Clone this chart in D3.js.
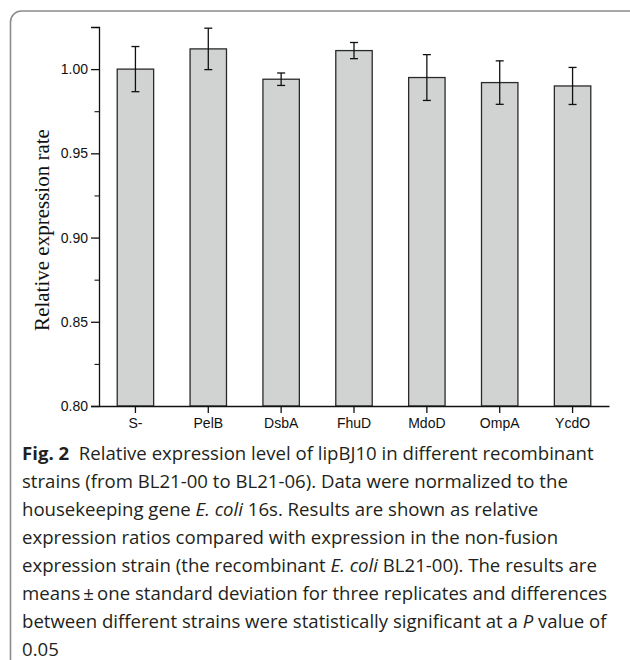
<!DOCTYPE html>
<html>
<head>
<meta charset="utf-8">
<script src="https://cdn.jsdelivr.net/npm/d3@7"></script>
<style>
  html, body { margin: 0; padding: 0; background: #fff; }
  svg { display: block; }
</style>
</head>
<body>
<svg id="chart"></svg>
<script>
const categories = ['S-', 'PelB', 'DsbA', 'FhuD', 'MdoD', 'OmpA', 'YcdO'];
const means = [1.000, 1.012, 0.994, 1.011, 0.995, 0.992, 0.990];
const sds = [0.0134, 0.0123, 0.0037, 0.0048, 0.0136, 0.0129, 0.0110];
const majorTicks = [0.80, 0.85, 0.90, 0.95, 1.00];
const minorTicks = [0.825, 0.875, 0.925, 0.975, 1.025];
const yLabel = 'Relative expression rate';

// caption lines, each a list of [text, style]
const captionLines = [
  [['Fig. 2', 'b'], ['  Relative expression level of lipBJ10 in different recombinant', '']],
  [['strains (from BL21-00 to BL21-06). Data were normalized to the', '']],
  [['housekeeping gene ', ''], ['E. coli', 'i'], [' 16s. Results are shown as relative', '']],
  [['expression ratios compared with expression in the non-fusion', '']],
  [['expression strain (the recombinant ', ''], ['E. coli', 'i'], [' BL21-00). The results are', '']],
  [['means\u2009\u00b1\u2009one standard deviation for three replicates and differences', '']],
  [['between different strains were statistically significant at a ', ''], ['P', 'i'], [' value of', '']],
  [['0.05', '']]
];

const width = 630;
const height = 660;
const plot = { left: 99, right: 609, top: 27, bottom: 406 };

const svg = d3.select('#chart')
  .attr('width', width)
  .attr('height', height);

// rounded frame (runs off the right/bottom edge like the reference)
svg.append('rect')
  .attr('x', 10.5)
  .attr('y', 11)
  .attr('width', 640)
  .attr('height', 662)
  .attr('rx', 11)
  .attr('fill', 'none')
  .attr('stroke', '#8c8c8c')
  .attr('stroke-width', 1.6);

const xScale = d3.scaleBand()
  .domain(categories)
  .range([plot.left, plot.right])
  .paddingInner(0.5)
  .paddingOuter(0.25);

const yScale = d3.scaleLinear()
  .domain([0.80, 1.025])
  .range([plot.bottom, plot.top]);

const g = svg.append('g');

// bars
g.selectAll('.bar')
  .data(categories)
  .enter()
  .append('rect')
  .attr('class', 'bar')
  .attr('x', d => xScale(d))
  .attr('width', xScale.bandwidth())
  .attr('y', (d, i) => yScale(means[i]))
  .attr('height', (d, i) => yScale(0.80) - yScale(means[i]))
  .attr('fill', '#d1d3d2')
  .attr('stroke', '#2a2a2a')
  .attr('stroke-width', 1.3);

// error bars
const capHalf = 4;
const errs = g.selectAll('.err')
  .data(categories)
  .enter()
  .append('g')
  .attr('class', 'err')
  .attr('stroke', '#111')
  .attr('stroke-width', 1.3);

errs.append('line')
  .attr('x1', d => xScale(d) + xScale.bandwidth() / 2)
  .attr('x2', d => xScale(d) + xScale.bandwidth() / 2)
  .attr('y1', (d, i) => yScale(means[i] + sds[i]))
  .attr('y2', (d, i) => yScale(means[i] - sds[i]));

[1, -1].forEach(sign => {
  errs.append('line')
    .attr('x1', d => xScale(d) + xScale.bandwidth() / 2 - capHalf)
    .attr('x2', d => xScale(d) + xScale.bandwidth() / 2 + capHalf)
    .attr('y1', (d, i) => yScale(means[i] + sign * sds[i]))
    .attr('y2', (d, i) => yScale(means[i] + sign * sds[i]));
});

// y axis
const yAxis = svg.append('g')
  .attr('transform', `translate(${plot.left}, 0)`)
  .call(d3.axisLeft(yScale)
    .tickValues(majorTicks)
    .tickFormat(d3.format('.2f'))
    .tickSize(8)
    .tickPadding(3));

svg.append('g')
  .attr('transform', `translate(${plot.left}, 0)`)
  .call(d3.axisLeft(yScale)
    .tickValues(minorTicks)
    .tickFormat('')
    .tickSize(4.5))
  .select('.domain').remove();

// x axis
const xAxis = svg.append('g')
  .attr('transform', `translate(0, ${plot.bottom})`)
  .call(d3.axisBottom(xScale)
    .tickSize(7)
    .tickSizeOuter(0)
    .tickPadding(5));

[yAxis, xAxis].forEach(ax => {
  ax.selectAll('.domain, line')
    .attr('stroke', '#111')
    .attr('stroke-width', 1.3);
  ax.selectAll('text')
    .attr('fill', '#111')
    .style('font-family', '"Liberation Sans", Arial, sans-serif')
    .style('font-size', '14px');
});

// y axis title
svg.append('text')
  .attr('transform', 'translate(49, 230) rotate(-90)')
  .attr('text-anchor', 'middle')
  .style('font-family', '"Liberation Serif", "Times New Roman", serif')
  .style('font-size', '21px')
  .attr('fill', '#111')
  .text(yLabel);

// caption
const caption = svg.append('text')
  .style('font-family', '"Open Sans", sans-serif')
  .style('font-size', '18.6px')
  .attr('fill', '#231f20');

captionLines.forEach((line, li) => {
  line.forEach(([txt, style], si) => {
    const span = caption.append('tspan')
      .style('white-space', 'pre')
      .text(txt);
    if (si === 0) {
      span.attr('x', 22).attr('y', 460 + li * 28);
    }
    if (style === 'b') span.attr('font-weight', 'bold');
    if (style === 'i') span.attr('font-style', 'italic');
  });
});
</script>
</body>
</html>
